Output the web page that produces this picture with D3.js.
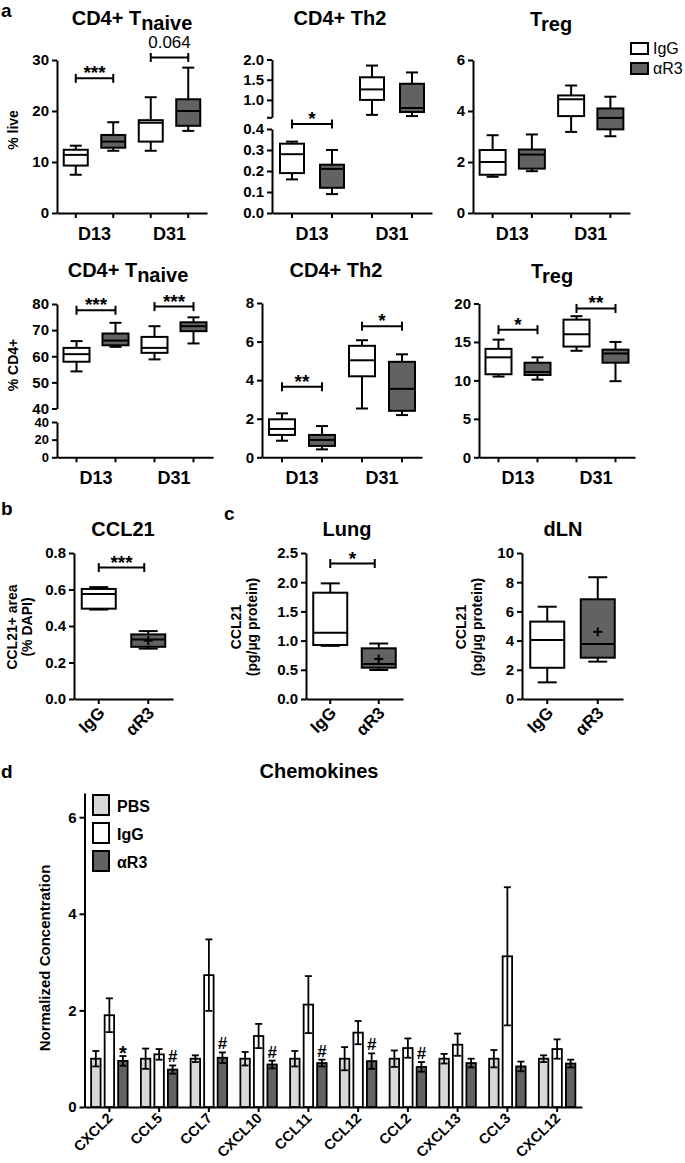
<!DOCTYPE html>
<html>
<head>
<meta charset="utf-8">
<script src="https://cdn.jsdelivr.net/npm/d3@7/dist/d3.min.js"></script>
<style>
html,body{margin:0;padding:0;background:#fff;}
svg{display:block;}
</style>
</head>
<body>
<svg id="fig" width="685" height="1163"></svg>
<script>
// ================= DATA =================
const timepoints = ["D13", "D31"];
const treatments = ["IgG", "αR3"];
// box stats [min, Q1, median, Q3, max]; order: D13 IgG, D13 αR3, D31 IgG, D31 αR3
const tnaiveLive = [[7.5, 9.3, 11.4, 12.4, 13.2], [12.2, 12.8, 14.0, 15.3, 17.8], [12.2, 14.0, 17.7, 18.2, 22.7], [16.1, 17.1, 20.0, 22.3, 28.5]];
const th2Live = [[0.16, 0.19, 0.28, 0.33, 0.34], [0.09, 0.12, 0.21, 0.23, 0.30], [0.63, 1.0, 1.26, 1.56, 1.85], [0.60, 0.70, 0.80, 1.40, 1.68]];
const tregLive = [[1.42, 1.5, 2.0, 2.47, 3.05], [1.64, 1.74, 2.29, 2.49, 3.08], [3.18, 3.80, 4.46, 4.61, 5.0], [3.01, 3.28, 3.73, 4.10, 4.56]];
const tnaiveCD4 = [[54.2, 57.9, 60.8, 63.2, 65.8], [63.6, 64.2, 66.0, 68.7, 72.8], [58.8, 61.3, 63.2, 67.4, 71.5], [64.9, 69.6, 71.5, 73.0, 74.9]];
const th2CD4 = [[0.86, 1.16, 1.47, 1.97, 2.28], [0.41, 0.59, 0.9, 1.16, 1.62], [2.53, 4.2, 5.03, 5.78, 6.07], [2.19, 2.41, 3.55, 4.95, 5.34]];
const tregCD4 = [[10.5, 10.8, 13.0, 14.1, 15.3], [10.1, 10.7, 11.1, 12.3, 13.0], [13.85, 14.4, 16.0, 17.9, 18.35], [9.9, 12.3, 13.5, 14.0, 15.0]];
// significance brackets: [timepoint, height, label]
const tnaiveLiveSig = [["D13", 26.4, "***"], ["D31", 30.5, "0.064"]];
const th2LiveSig = [["D13", 0.424, "*"]];
const tregLiveSig = [];
const tnaiveCD4Sig = [["D13", 77.6, "***"], ["D31", 79.0, "***"]];
const th2CD4Sig = [["D13", 3.66, "**"], ["D31", 6.8, "*"]];
const tregCD4Sig = [["D13", 16.6, "*"], ["D31", 19.35, "**"]];

// panel b / c : [min, Q1, median, Q3, max] for IgG, αR3
const ccl21Area = [[0.49, 0.495, 0.575, 0.603, 0.613], [0.276, 0.286, 0.326, 0.354, 0.372]];
const ccl21AreaMean = [null, 0.32];
const ccl21AreaSig = [0.72, "***"];
const ccl21Lung = [[0.91, 0.925, 1.135, 1.82, 1.98], [0.497, 0.536, 0.60, 0.868, 0.95]];
const ccl21LungMean = [null, 0.685];
const ccl21LungSig = [2.32, "*"];
const ccl21dLN = [[1.14, 2.14, 4.04, 5.3, 6.32], [2.56, 2.83, 3.77, 6.83, 8.34]];
const ccl21dLNMean = [null, 4.6];

// panel d
const chemokines = ["CXCL2", "CCL5", "CCL7", "CXCL10", "CCL11", "CCL12", "CCL2", "CXCL13", "CCL3", "CXCL12"];
const chemoGroups = ["PBS", "IgG", "αR3"];
const pbsMean = [1.0, 1.0, 1.0, 1.0, 1.0, 1.0, 1.0, 1.0, 1.0, 1.0];
const pbsErr = [0.16, 0.21, 0.07, 0.14, 0.16, 0.24, 0.17, 0.10, 0.18, 0.07];
const iggMean = [1.90, 1.09, 2.73, 1.47, 2.12, 1.54, 1.22, 1.29, 3.12, 1.20];
const iggErr = [0.35, 0.11, 0.74, 0.25, 0.59, 0.24, 0.20, 0.23, 1.43, 0.20];
const ar3Mean = [0.955, 0.775, 1.02, 0.88, 0.91, 0.95, 0.83, 0.91, 0.84, 0.90];
const ar3Err = [0.10, 0.085, 0.11, 0.08, 0.07, 0.16, 0.10, 0.09, 0.10, 0.08];
const chemoMarks = ["*", "#", "#", "#", "#", "#", "#", "", "", ""];

// ================= DRAWING =================
const FONT = '"Liberation Sans", Arial, Helvetica, sans-serif';
const DARK = "#626262", LIGHT = "#d8d8d8";
const svg = d3.select("#fig").attr("font-family", FONT);

function styleAxis(a, fs) {
  a.select(".domain").attr("stroke", "#000").attr("stroke-width", 2);
  a.selectAll(".tick line").attr("stroke", "#000").attr("stroke-width", 2);
  a.selectAll(".tick text").attr("fill", "#000").attr("font-family", FONT)
    .attr("font-weight", "bold").attr("font-size", fs || 15);
}

function text(g, x, y, s, o) {
  o = o || {};
  const t = g.append("text").attr("x", x).attr("y", y).text(s)
    .attr("font-size", o.size || 15).attr("font-weight", o.weight || "bold")
    .attr("text-anchor", o.anchor || "middle").attr("fill", "#000");
  return t;
}

function title(g, x, y, main, sub) {
  const t = g.append("text").attr("x", x).attr("y", y).attr("text-anchor", "middle")
    .attr("font-size", 20).attr("font-weight", "bold");
  t.append("tspan").text(main);
  if (sub) t.append("tspan").attr("dy", 5).text(sub);
}

function vlabel(g, x, y, lines, size, gap) {
  lines.forEach((s, i) => {
    g.append("text").attr("transform", `translate(${x + i * gap},${y}) rotate(-90)`)
      .attr("text-anchor", "middle").attr("font-size", size).attr("font-weight", "bold").text(s);
  });
}

function drawBox(g, cx, d, y, bw, capW, fill, mean) {
  const [mn, q1, md, q3, mx] = d;
  const line = (x1, y1, x2, y2) => g.append("line").attr("x1", x1).attr("y1", y1).attr("x2", x2).attr("y2", y2)
    .attr("stroke", "#000").attr("stroke-width", 2);
  line(cx, y(mn), cx, y(mx));
  line(cx - capW / 2, y(mn), cx + capW / 2, y(mn));
  line(cx - capW / 2, y(mx), cx + capW / 2, y(mx));
  g.append("rect").attr("x", cx - bw / 2).attr("y", y(q3)).attr("width", bw).attr("height", y(q1) - y(q3))
    .attr("fill", fill).attr("stroke", "#000").attr("stroke-width", 2);
  line(cx - bw / 2, y(md), cx + bw / 2, y(md));
  if (mean != null) {
    line(cx - 4.5, y(mean), cx + 4.5, y(mean));
    line(cx, y(mean) - 4.5, cx, y(mean) + 4.5);
  }
}

function drawSig(g, xa, xb, yy, label) {
  const ln = (x1, y1, x2, y2) => g.append("line").attr("x1", x1).attr("y1", y1).attr("x2", x2).attr("y2", y2)
    .attr("stroke", "#000").attr("stroke-width", 2);
  ln(xa, yy, xb, yy);
  ln(xa, yy - 4.5, xa, yy + 4.5);
  ln(xb, yy - 4.5, xb, yy + 4.5);
  const numeric = /^[0-9.]+$/.test(label);
  if (numeric) text(g, (xa + xb) / 2, yy - 9, label, { size: 17, weight: "normal" });
  else text(g, (xa + xb) / 2, yy + 1, label, { size: 19 });
}

// Panel a box chart with two timepoints x two treatments
function boxChart(o) {
  const g = svg.append("g");
  const x = d3.scaleBand(timepoints, [o.x0, o.x1]);
  const xi = d3.scaleBand(treatments, [0, x.bandwidth()]);
  const cx = (t, tr) => x(t) + xi(tr) + xi.bandwidth() / 2;
  o.segments.forEach(s => {
    const tv = s.endTick != null ? s.ticks.concat([s.endTick]) : s.ticks;
    const ax = d3.axisLeft(s.scale).tickValues(tv)
      .tickFormat(v => (v === s.endTick ? "" : s.fmt(v))).tickSize(5).tickSizeOuter(0).tickPadding(3);
    styleAxis(g.append("g").attr("transform", `translate(${o.x0},0)`).call(ax), s.fs || 15);
  });
  const combos = [];
  timepoints.forEach(t => treatments.forEach(tr => combos.push(t + "|" + tr)));
  const xb = d3.scaleBand(combos, [o.x0, o.x1]);
  styleAxis(g.append("g").attr("transform", `translate(0,${o.base})`)
    .call(d3.axisBottom(xb).tickFormat("").tickSize(5).tickSizeOuter(0)));
  timepoints.forEach(t => text(g, x(t) + x.bandwidth() / 2, o.base + 27, t, { size: 18 }));
  o.data.forEach((d, i) => {
    const t = timepoints[Math.floor(i / 2)], tr = treatments[i % 2];
    drawBox(g, cx(t, tr), d, o.y, o.bw, o.capW, tr === "IgG" ? "#fff" : DARK, null);
  });
  o.sig.forEach(([t, v, lab]) => drawSig(g, cx(t, "IgG"), cx(t, "αR3"), o.y(v), lab));
  title(g, o.tx, o.ty, o.title[0], o.title[1]);
  return g;
}

// ---- Row 1 ----
const yT1 = d3.scaleLinear([0, 30], [213, 60]);
boxChart({ x0: 57, x1: 207, base: 213, y: yT1, segments: [{ scale: yT1, ticks: [0, 10, 20, 30], fmt: d3.format("d") }],
  data: tnaiveLive, sig: tnaiveLiveSig, bw: 24, capW: 12, title: ["CD4+ T", "naive"], tx: 132, ty: 25 });
vlabel(svg, 18, 130, ["% live"], 14, 0);

const yTh2Lo = d3.scaleLinear([0, 0.4], [213, 129]);
const yTh2Hi = d3.scaleLinear([0.57, 2.0], [117.3, 59.5]);
boxChart({ x0: 272, x1: 432, base: 213, y: v => (v > 0.5 ? yTh2Hi(v) : yTh2Lo(v)),
  segments: [{ scale: yTh2Lo, ticks: [0, 0.1, 0.2, 0.3, 0.4], fmt: d3.format(".1f") },
             { scale: yTh2Hi, ticks: [1.0, 1.5, 2.0], fmt: d3.format(".1f"), endTick: 0.57 }],
  data: th2Live, sig: th2LiveSig, bw: 24, capW: 12, title: ["CD4+ Th2"], tx: 340, ty: 25 });

const yTr1 = d3.scaleLinear([0, 6], [213, 60]);
boxChart({ x0: 473, x1: 630, base: 213, y: yTr1, segments: [{ scale: yTr1, ticks: [0, 2, 4, 6], fmt: d3.format("d") }],
  data: tregLive, sig: tregLiveSig, bw: 26, capW: 12, title: ["T", "reg"], tx: 551, ty: 26 });

// legend (top right)
const lg = svg.append("g");
treatments.forEach((tr, i) => {
  lg.append("rect").attr("x", 631).attr("y", 43 + i * 20).attr("width", 17).attr("height", 11)
    .attr("fill", tr === "IgG" ? "#fff" : DARK).attr("stroke", "#000").attr("stroke-width", 2);
  text(lg, 653, 54 + i * 20, tr, { size: 16, weight: "normal", anchor: "start" });
});

// ---- Row 2 ----
const yN2Hi = d3.scaleLinear([40, 80], [408.5, 304]);
const yN2Lo = d3.scaleLinear([0, 40], [457.3, 422]);
boxChart({ x0: 57, x1: 213, base: 457.3, y: v => (v > 40 ? yN2Hi(v) : yN2Lo(v)),
  segments: [{ scale: yN2Lo, ticks: [0, 20, 40], fmt: d3.format("d"), fs: 13 },
             { scale: yN2Hi, ticks: [40, 50, 60, 70, 80], fmt: d3.format("d"), fs: 15 }],
  data: tnaiveCD4, sig: tnaiveCD4Sig, bw: 26, capW: 12, title: ["CD4+ T", "naive"], tx: 128, ty: 277 });
vlabel(svg, 18, 365, ["% CD4+"], 14, 0);

const yH2 = d3.scaleLinear([0, 8], [457.3, 303]);
boxChart({ x0: 262, x1: 422, base: 457.3, y: yH2, segments: [{ scale: yH2, ticks: [0, 2, 4, 6, 8], fmt: d3.format("d") }],
  data: th2CD4, sig: th2CD4Sig, bw: 26, capW: 12, title: ["CD4+ Th2"], tx: 336, ty: 277 });

const yR2 = d3.scaleLinear([0, 20], [457.3, 303.5]);
boxChart({ x0: 479, x1: 635, base: 457.3, y: yR2, segments: [{ scale: yR2, ticks: [0, 5, 10, 15, 20], fmt: d3.format("d") }],
  data: tregCD4, sig: tregCD4Sig, bw: 26, capW: 12, title: ["T", "reg"], tx: 552, ty: 278 });

// ---- Panels b / c ----
function smallBox(o) {
  const g = svg.append("g");
  const x = d3.scaleBand(treatments, [o.x0, o.x1]);
  const cx = tr => x(tr) + x.bandwidth() / 2;
  styleAxis(g.append("g").attr("transform", `translate(${o.x0},0)`)
    .call(d3.axisLeft(o.y).tickValues(o.ticks).tickFormat(o.fmt).tickSize(5).tickSizeOuter(0).tickPadding(3)));
  styleAxis(g.append("g").attr("transform", `translate(0,${o.base})`)
    .call(d3.axisBottom(x).tickFormat("").tickSize(5).tickSizeOuter(0)));
  treatments.forEach(tr => {
    g.append("text").attr("transform", `translate(${cx(tr) + 7},${o.base + 15}) rotate(-45)`)
      .attr("text-anchor", "end").attr("font-size", 17).attr("font-weight", "bold").text(tr);
  });
  o.data.forEach((d, i) => drawBox(g, cx(treatments[i]), d, o.y, 34, 19, i === 0 ? "#fff" : DARK, o.mean[i]));
  if (o.sig) drawSig(g, cx("IgG"), cx("αR3") - 4, o.y(o.sig[0]), o.sig[1]);
  title(g, o.tx, 536, o.title);
  vlabel(g, o.lx, 627, o.label, 14, o.lgap);
}

const yB = d3.scaleLinear([0, 0.8], [699, 553]);
smallBox({ x0: 74, x1: 173, base: 699, y: yB, ticks: [0, 0.2, 0.4, 0.6, 0.8], fmt: d3.format(".1f"),
  data: ccl21Area, mean: ccl21AreaMean, sig: ccl21AreaSig, title: "CCL21", tx: 123, label: ["CCL21+ area", "(% DAPI)"], lx: 17, lgap: 15 });

const yL = d3.scaleLinear([0, 2.5], [699, 553]);
smallBox({ x0: 306, x1: 403, base: 699, y: yL, ticks: [0, 0.5, 1.0, 1.5, 2.0, 2.5], fmt: d3.format(".1f"),
  data: ccl21Lung, mean: ccl21LungMean, sig: ccl21LungSig, title: "Lung", tx: 347, label: ["CCL21", "(pg/µg protein)"], lx: 241, lgap: 16 });

const yD = d3.scaleLinear([0, 10], [699, 553]);
smallBox({ x0: 522, x1: 623, base: 699, y: yD, ticks: [0, 2, 4, 6, 8, 10], fmt: d3.format("d"),
  data: ccl21dLN, mean: ccl21dLNMean, sig: null, title: "dLN", tx: 563, label: ["CCL21", "(pg/µg protein)"], lx: 466, lgap: 16 });

// ---- Panel d ----
(function () {
  const g = svg.append("g");
  const x0 = 84.5, x1 = 582, base = 1107;
  const y = d3.scaleLinear([0, 6.5], [base, base - 6.5 * 48.3]);
  const x = d3.scaleBand(chemokines, [x0, x1]);
  const xi = d3.scaleBand(chemoGroups, [0, 36.5]).paddingInner(0.3);
  const off = (x.bandwidth() - 36.5) / 2;
  styleAxis(g.append("g").attr("transform", `translate(${x0},0)`)
    .call(d3.axisLeft(y).tickValues([0, 2, 4, 6]).tickFormat(d3.format("d")).tickSize(5).tickSizeOuter(0).tickPadding(3)));
  styleAxis(g.append("g").attr("transform", `translate(0,${base})`)
    .call(d3.axisBottom(x).tickFormat("").tickSize(5).tickSizeOuter(0)));
  chemokines.forEach(c => {
    g.append("text").attr("transform", `translate(${x(c) + x.bandwidth() / 2 + 4},${base + 12}) rotate(-45)`)
      .attr("text-anchor", "end").attr("font-size", 14.5).attr("font-weight", "bold").text(c);
  });
  const series = [[pbsMean, pbsErr, LIGHT], [iggMean, iggErr, "#fff"], [ar3Mean, ar3Err, DARK]];
  const ln = (x1_, y1, x2, y2) => g.append("line").attr("x1", x1_).attr("y1", y1).attr("x2", x2).attr("y2", y2)
    .attr("stroke", "#000").attr("stroke-width", 1.8);
  chemokines.forEach((c, ci) => {
    series.forEach(([m, e, fill], si) => {
      const bx = x(c) + off + xi(chemoGroups[si]);
      const bw = xi.bandwidth();
      const cxx = bx + bw / 2;
      g.append("rect").attr("x", bx).attr("y", y(m[ci])).attr("width", bw).attr("height", base - y(m[ci]))
        .attr("fill", fill).attr("stroke", "#000").attr("stroke-width", 1.8);
      const lo = m[ci] - e[ci], hi = m[ci] + e[ci];
      ln(cxx, y(lo), cxx, y(hi));
      ln(cxx - 3.5, y(hi), cxx + 3.5, y(hi));
      ln(cxx - 3.5, y(lo), cxx + 3.5, y(lo));
    });
    const mk = chemoMarks[ci];
    if (mk) {
      const cxx = x(c) + off + xi("αR3") + xi.bandwidth() / 2;
      const top = y(ar3Mean[ci] + ar3Err[ci]);
      text(g, cxx, mk === "*" ? top + 4 : top - 3, mk, { size: mk === "*" ? 20 : 17 });
    }
  });
  // legend
  chemoGroups.forEach((s, i) => {
    g.append("rect").attr("x", 93).attr("y", 795 + i * 28).attr("width", 16).attr("height", 20)
      .attr("fill", [LIGHT, "#fff", DARK][i]).attr("stroke", "#000").attr("stroke-width", 2);
    text(g, 117, 812 + i * 28, s, { size: 16, anchor: "start" });
  });
  text(g, 319, 778, "Chemokines", { size: 20 });
  vlabel(g, 50, 958, ["Normalized Concentration"], 15, 0);
})();

// panel letters
text(svg, 1, 17, "a", { size: 19, anchor: "start" });
text(svg, 1, 515, "b", { size: 19, anchor: "start" });
text(svg, 224, 520, "c", { size: 19, anchor: "start" });
text(svg, 1, 778, "d", { size: 19, anchor: "start" });
</script>
</body>
</html>
